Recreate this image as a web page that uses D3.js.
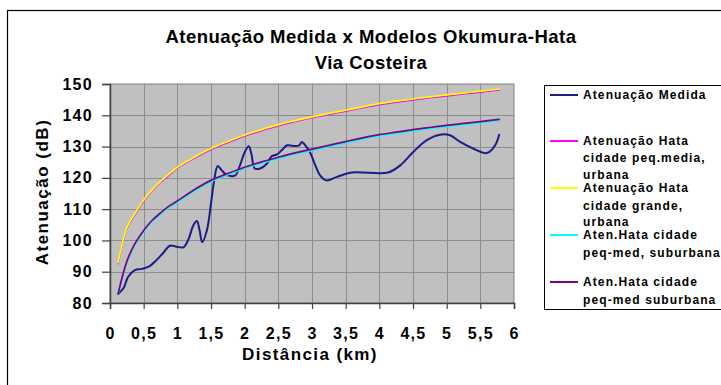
<!DOCTYPE html>
<html>
<head>
<meta charset="utf-8">
<script src="https://cdn.jsdelivr.net/npm/d3@7"></script>
<style>
  html, body { margin: 0; padding: 0; background: #fff; }
  svg { display: block; }
  text { font-family: "Liberation Sans", Arial, sans-serif; font-weight: bold; fill: #000; }
</style>
</head>
<body>
<svg id="chart" width="721" height="385"></svg>
<script>
// Measured attenuation along Via Costeira
const measuredDist = [0.12,0.20,0.27,0.37,0.47,0.59,0.69,0.79,0.89,0.99,1.09,1.16,1.24,1.29,1.33,1.37,1.44,1.50,1.54,1.60,1.66,1.73,1.86,1.93,2.00,2.06,2.10,2.15,2.23,2.33,2.40,2.48,2.55,2.63,2.72,2.81,2.85,2.90,2.97,3.04,3.12,3.21,3.37,3.59,4.13,4.31,4.50,4.70,4.90,5.05,5.20,5.40,5.57,5.63,5.72,5.78];
const measuredAtt = [82.9,84.7,88.4,90.5,90.9,91.8,93.7,96.0,98.3,98.0,97.8,100.1,104.9,106.2,103.3,99.4,103.3,111.8,118.2,123.8,122.4,121.0,120.8,124.0,128.2,130.1,127.7,123.0,123.0,124.5,126.9,127.5,128.8,130.4,130.2,130.4,131.5,130.4,128.2,124.5,120.8,119.2,120.3,121.7,121.7,124.0,128.2,132.0,133.8,133.6,131.5,129.3,127.9,128.2,130.4,133.8];

// Okumura-Hata model curves
const hataDist = [0.12,0.25,0.37,0.5,0.62,0.75,0.87,1.0,1.25,1.5,1.75,2.0,2.25,2.5,2.75,3.0,3.25,3.5,3.75,4.0,4.25,4.5,4.75,5.0,5.25,5.5,5.78];
const hataUrbanMedium = [92.6,103.8,108.3,112.6,115.8,118.6,120.8,123.1,126.3,129.1,131.3,133.4,135.1,136.7,138.0,139.2,140.3,141.3,142.4,143.4,144.2,144.9,145.6,146.2,146.8,147.4,148.1];
const hataUrbanLarge = [92.9,104.1,108.6,112.9,116.1,118.9,121.1,123.4,126.6,129.4,131.6,133.7,135.4,137.0,138.3,139.5,140.6,141.6,142.7,143.7,144.5,145.2,145.9,146.5,147.1,147.7,148.4];
const hataSuburbanA = [82.9,93.0,98.6,102.8,105.9,108.4,110.5,112.2,115.8,118.8,121.0,123.0,124.7,126.2,127.6,128.8,130.0,131.2,132.4,133.4,134.2,135.0,135.7,136.4,137.0,137.6,138.3];
const hataSuburbanB = [82.9,93.3,99.0,103.2,106.3,108.8,110.9,112.6,116.2,119.2,121.4,123.4,125.1,126.6,128.0,129.2,130.4,131.6,132.8,133.8,134.6,135.4,136.1,136.8,137.4,138.0,138.7];

const xTicks = [0,0.5,1,1.5,2,2.5,3,3.5,4,4.5,5,5.5,6];
const yTicks = [80,90,100,110,120,130,140,150];

const series = [
  { name: ["Atenuação Medida"], color: "#1c1c88", width: 2, xs: measuredDist, ys: measuredAtt, labelY: [95] },
  { name: ["Atenuação Hata", "cidade peq.media,", "urbana"], color: "#ff00ff", width: 1.7, xs: hataDist, ys: hataUrbanMedium, labelY: [141,158,175] },
  { name: ["Atenuação Hata", "cidade grande,", "urbana"], color: "#ffff00", width: 1.7, xs: hataDist, ys: hataUrbanLarge, labelY: [188,206,222] },
  { name: ["Aten.Hata cidade", "peq-med, suburbana"], color: "#00ffff", width: 1.7, xs: hataDist, ys: hataSuburbanA, labelY: [235,253] },
  { name: ["Aten.Hata cidade", "peq-med suburbana"], color: "#800080", width: 1.7, xs: hataDist, ys: hataSuburbanB, labelY: [282,300] }
];

const svg = d3.select("#chart");

// chart frame
svg.append("rect").attr("x", 7.5).attr("y", 10.5).attr("width", 740).attr("height", 400)
  .attr("fill", "#fff").attr("stroke", "#000").attr("stroke-width", 1.2);

const x = d3.scaleLinear().domain([0, 6]).range([110, 514]);
const y = d3.scaleLinear().domain([80, 150]).range([303, 84]);

// plot area
svg.append("rect").attr("x", x(0)).attr("y", y(150))
  .attr("width", x(6) - x(0)).attr("height", y(80) - y(150))
  .attr("fill", "#c0c0c0").attr("stroke", "#808080").attr("stroke-width", 1);

// gridlines
const grid = svg.append("g").attr("stroke", "#8e8e8e").attr("stroke-width", 1);
grid.selectAll("line.h").data(yTicks.slice(1, -1)).join("line")
  .attr("x1", x(0)).attr("x2", x(6))
  .attr("y1", d => Math.round(y(d)) + 0.5).attr("y2", d => Math.round(y(d)) + 0.5);
grid.selectAll("line.v").data(xTicks.slice(1, -1)).join("line")
  .attr("y1", y(150)).attr("y2", y(80))
  .attr("x1", d => Math.round(x(d)) + 0.5).attr("x2", d => Math.round(x(d)) + 0.5);

// axes
const xAxis = svg.append("g").attr("transform", `translate(0,${y(80)})`)
  .call(d3.axisBottom(x).tickValues(xTicks).tickSize(6).tickFormat(d => String(d).replace(".", ",")));
const yAxis = svg.append("g").attr("transform", `translate(${x(0)},0)`)
  .call(d3.axisLeft(y).tickValues(yTicks).tickSize(8));
[xAxis, yAxis].forEach(g => {
  g.select(".domain").attr("stroke", "#404040").attr("stroke-width", 1.5);
  g.selectAll(".tick line").attr("stroke", "#404040").attr("stroke-width", 1.2);
  g.selectAll(".tick text").attr("font-family", null).attr("font-size", 16)
    .style("letter-spacing", "1.3px").attr("fill", "#000");
});
xAxis.selectAll(".tick text").attr("y", 0).attr("dy", 0).attr("transform", "translate(0,36)");
yAxis.selectAll(".tick text").attr("x", -17);

// series lines
const line = d3.line().curve(d3.curveCatmullRom.alpha(0.5));
series.forEach(s => {
  const pts = s.xs.map((d, i) => [x(d), y(s.ys[i])]);
  svg.append("path").attr("d", line(pts)).attr("fill", "none")
    .attr("stroke", s.color).attr("stroke-width", s.width)
    .attr("stroke-linejoin", "round").attr("stroke-linecap", "round");
});

// titles
svg.append("text").attr("x", 371).attr("y", 43).attr("text-anchor", "middle")
  .attr("font-size", 18.5).style("letter-spacing", "0.5px")
  .text("Atenuação Medida x Modelos Okumura-Hata");
svg.append("text").attr("x", 371).attr("y", 69).attr("text-anchor", "middle")
  .attr("font-size", 18.5).style("letter-spacing", "0.5px")
  .text("Via Costeira");
svg.append("text").attr("x", 310).attr("y", 360).attr("text-anchor", "middle")
  .attr("font-size", 17).style("letter-spacing", "1.4px")
  .text("Distância (km)");
svg.append("text").attr("transform", "translate(48,192) rotate(-90)").attr("text-anchor", "middle")
  .attr("font-size", 17).style("letter-spacing", "1.5px")
  .text("Atenuação (dB)");

// legend
svg.append("rect").attr("x", 544.5).attr("y", 85.5).attr("width", 200).attr("height", 224)
  .attr("fill", "#fff").attr("stroke", "#000").attr("stroke-width", 1);
series.forEach(s => {
  svg.append("line").attr("x1", 550).attr("x2", 578)
    .attr("y1", s.labelY[0]).attr("y2", s.labelY[0])
    .attr("stroke", s.color).attr("stroke-width", 2);
  s.name.forEach((t, i) => {
    svg.append("text").attr("x", 583).attr("y", s.labelY[i]).attr("dy", "0.36em")
      .attr("font-size", 12).style("letter-spacing", "1.1px").text(t);
  });
});
</script>
</body>
</html>
